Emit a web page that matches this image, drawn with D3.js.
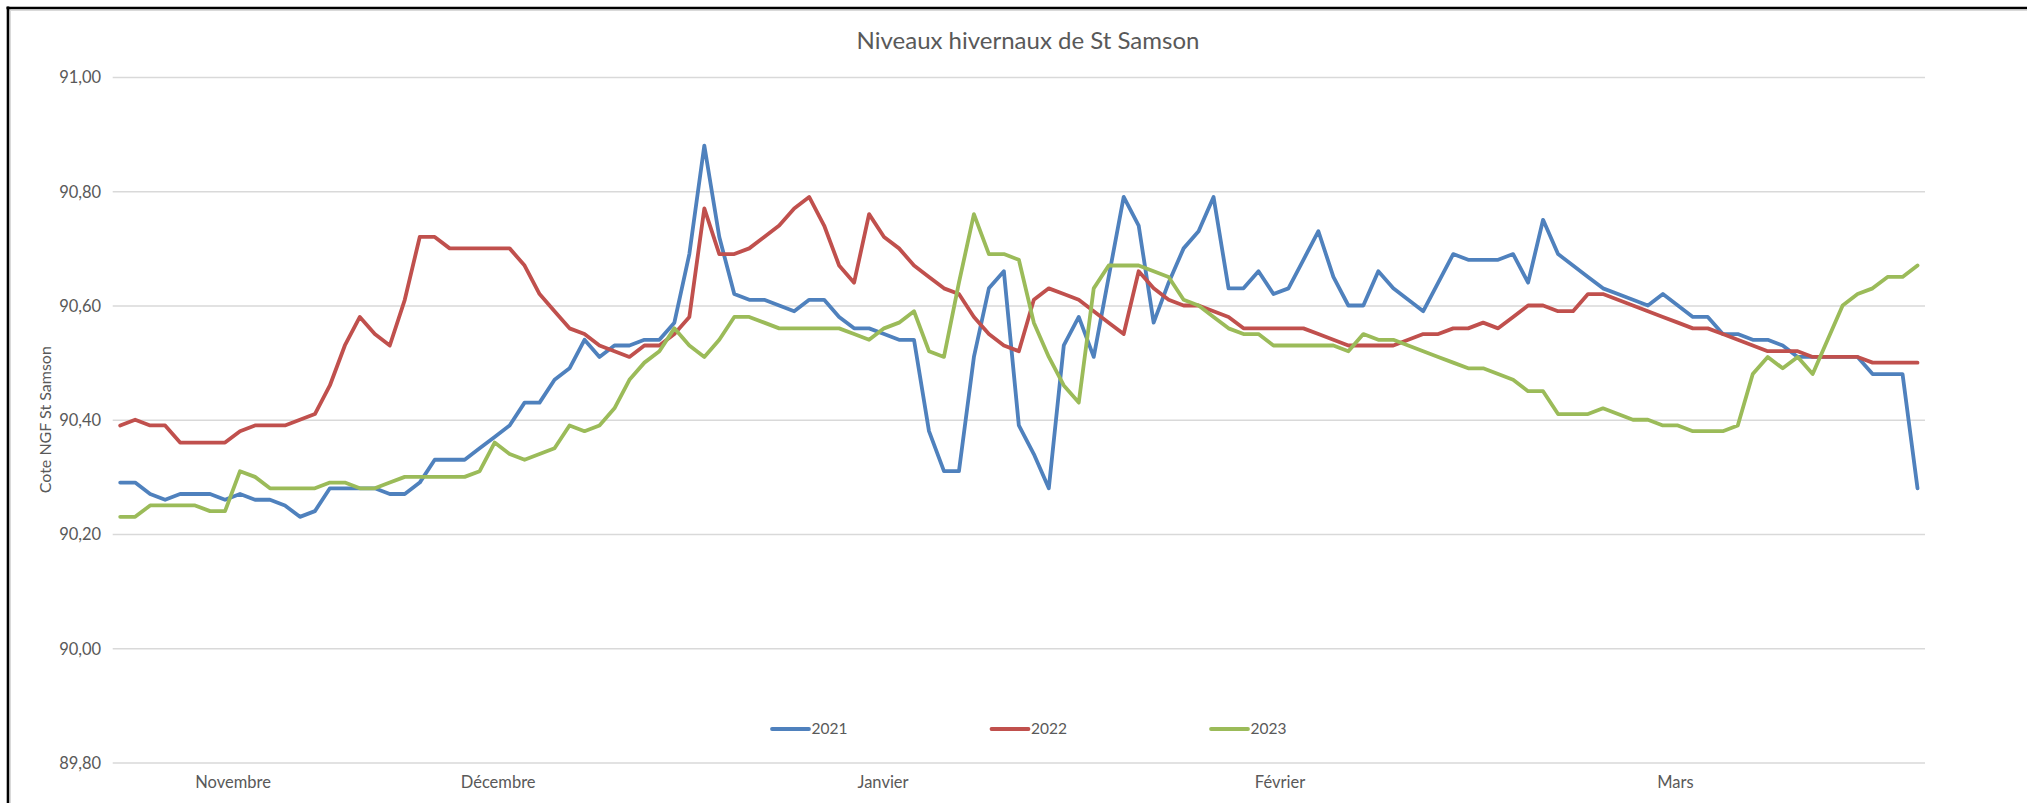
<!DOCTYPE html>
<html><head><meta charset="utf-8">
<script src="https://cdn.jsdelivr.net/npm/d3@7"></script>
<style>html,body{margin:0;padding:0;background:#fff;overflow:hidden}</style>
</head><body>
<svg id="chart" width="2027" height="803"></svg>
<script>
const chartTitle = "Niveaux hivernaux de St Samson";
const yAxisTitle = "Cote NGF St Samson";
const seriesNames = ["2021", "2022", "2023"];
const seriesColors = ["#4F81BD", "#C0504D", "#9BBB59"];

const values2021 = [
90.29,90.29,90.27,90.26,90.27,90.27,90.27,90.26,90.27,90.26,
90.26,90.25,90.23,90.24,90.28,90.28,90.28,90.28,90.27,90.27,
90.29,90.33,90.33,90.33,90.35,90.37,90.39,90.43,90.43,90.47,
90.49,90.54,90.51,90.53,90.53,90.54,90.54,90.57,90.69,90.88,
90.72,90.62,90.61,90.61,90.60,90.59,90.61,90.61,90.58,90.56,
90.56,90.55,90.54,90.54,90.38,90.31,90.31,90.51,90.63,90.66,
90.39,90.34,90.28,90.53,90.58,90.51,90.65,90.79,90.74,90.57,
90.64,90.70,90.73,90.79,90.63,90.63,90.66,90.62,90.63,90.68,
90.73,90.65,90.60,90.60,90.66,90.63,90.61,90.59,90.64,90.69,
90.68,90.68,90.68,90.69,90.64,90.75,90.69,90.67,90.65,90.63,
90.62,90.61,90.60,90.62,90.60,90.58,90.58,90.55,90.55,90.54,
90.54,90.53,90.51,90.51,90.51,90.51,90.51,90.48,90.48,90.48,
90.28];

const values2022 = [
90.39,90.40,90.39,90.39,90.36,90.36,90.36,90.36,90.38,90.39,
90.39,90.39,90.40,90.41,90.46,90.53,90.58,90.55,90.53,90.61,
90.72,90.72,90.70,90.70,90.70,90.70,90.70,90.67,90.62,90.59,
90.56,90.55,90.53,90.52,90.51,90.53,90.53,90.55,90.58,90.77,
90.69,90.69,90.70,90.72,90.74,90.77,90.79,90.74,90.67,90.64,
90.76,90.72,90.70,90.67,90.65,90.63,90.62,90.58,90.55,90.53,
90.52,90.61,90.63,90.62,90.61,90.59,90.57,90.55,90.66,90.63,
90.61,90.60,90.60,90.59,90.58,90.56,90.56,90.56,90.56,90.56,
90.55,90.54,90.53,90.53,90.53,90.53,90.54,90.55,90.55,90.56,
90.56,90.57,90.56,90.58,90.60,90.60,90.59,90.59,90.62,90.62,
90.61,90.60,90.59,90.58,90.57,90.56,90.56,90.55,90.54,90.53,
90.52,90.52,90.52,90.51,90.51,90.51,90.51,90.50,90.50,90.50,
90.50];

const values2023 = [
90.23,90.23,90.25,90.25,90.25,90.25,90.24,90.24,90.31,90.30,
90.28,90.28,90.28,90.28,90.29,90.29,90.28,90.28,90.29,90.30,
90.30,90.30,90.30,90.30,90.31,90.36,90.34,90.33,90.34,90.35,
90.39,90.38,90.39,90.42,90.47,90.50,90.52,90.56,90.53,90.51,
90.54,90.58,90.58,90.57,90.56,90.56,90.56,90.56,90.56,90.55,
90.54,90.56,90.57,90.59,90.52,90.51,90.64,90.76,90.69,90.69,
90.68,90.57,90.51,90.46,90.43,90.63,90.67,90.67,90.67,90.66,
90.65,90.61,90.60,90.58,90.56,90.55,90.55,90.53,90.53,90.53,
90.53,90.53,90.52,90.55,90.54,90.54,90.53,90.52,90.51,90.50,
90.49,90.49,90.48,90.47,90.45,90.45,90.41,90.41,90.41,90.42,
90.41,90.40,90.40,90.39,90.39,90.38,90.38,90.38,90.39,90.48,
90.51,90.49,90.51,90.48,90.54,90.60,90.62,90.63,90.65,90.65,
90.67];

const monthLabels = ["Novembre", "Décembre", "Janvier", "Février", "Mars"];
const monthIndex = [7.5, 25.2, 50.9, 77.4, 103.8];
const yTicks = [89.8, 90.0, 90.2, 90.4, 90.6, 90.8, 91.0];

const allSeries = [values2021, values2022, values2023];

const svg = d3.select("#chart");
const textColor = "#595959";
const font = "Lato, 'Open Sans', sans-serif";

// frame
svg.append("rect").attr("x", 0).attr("y", 0).attr("width", 2027).attr("height", 803).attr("fill", "#fff");
svg.append("line").attr("x1", 9.5).attr("x2", 2027).attr("y1", 10.5).attr("y2", 10.5).attr("stroke", "#d9d9d9").attr("stroke-width", 1);
svg.append("line").attr("x1", 10.5).attr("x2", 10.5).attr("y1", 9.5).attr("y2", 803).attr("stroke", "#d9d9d9").attr("stroke-width", 1);
svg.append("line").attr("x1", 6.5).attr("x2", 2027).attr("y1", 8).attr("y2", 8).attr("stroke", "#000").attr("stroke-width", 2.6);
svg.append("line").attr("x1", 8).attr("x2", 8).attr("y1", 6.5).attr("y2", 803).attr("stroke", "#000").attr("stroke-width", 2.6);

const plotLeft = 112.7, plotRight = 1925, plotTop = 77, plotBottom = 762.5;
const n = values2021.length;
const x = d3.scaleLinear().domain([-0.5, n - 0.5]).range([plotLeft, plotRight]);
const y = d3.scaleLinear().domain([89.8, 91.0]).range([plotBottom, plotTop]);

const fr = d3.formatLocale({decimal: ",", thousands: " ", grouping: [3], currency: ["", " €"]});
const fmt = fr.format(".2f");

// gridlines
const yAxis = d3.axisLeft(y).tickValues(yTicks).tickSize(-(plotRight - plotLeft)).tickPadding(11.5).tickFormat(fmt);
const gy = svg.append("g").attr("transform", `translate(${plotLeft},0)`).call(yAxis);
gy.select(".domain").remove();
gy.selectAll(".tick line").attr("stroke", "#d9d9d9").attr("stroke-width", 1.3);
gy.selectAll(".tick text").attr("fill", textColor).attr("font-family", font).attr("font-size", 16.5).attr("dy", "0.35em");

// month labels
const xAxis = d3.axisBottom(x).tickValues(monthIndex).tickSize(0).tickPadding(0).tickFormat((d, i) => monthLabels[i]);
const gx = svg.append("g").attr("transform", `translate(0,${plotBottom})`).call(xAxis);
gx.select(".domain").remove();
gx.selectAll(".tick text").attr("fill", textColor).attr("font-family", font).attr("font-size", 16.5).attr("y", 19.5).attr("dy", "0.35em");

// lines
const line = d3.line().x((d, i) => x(i)).y(d => y(d));
svg.append("g").selectAll("path").data(allSeries).join("path")
  .attr("d", line)
  .attr("fill", "none")
  .attr("stroke", (d, i) => seriesColors[i])
  .attr("stroke-width", 3.8)
  .attr("stroke-linejoin", "round")
  .attr("stroke-linecap", "round");

// title
const t = svg.append("text").attr("x", 1028).attr("y", 41).attr("text-anchor", "middle").attr("dy", "0.35em")
  .attr("fill", textColor).attr("font-family", font).attr("font-size", 22).text(chartTitle);
const tw = t.node().getComputedTextLength();
if (tw > 0) t.attr("font-size", 22 * 343 / tw);

// y-axis title
svg.append("text").attr("transform", `translate(45,${(plotTop + plotBottom) / 2}) rotate(-90)`)
  .attr("text-anchor", "middle").attr("dy", "0.35em")
  .attr("fill", textColor).attr("font-family", font).attr("font-size", 16).text(yAxisTitle);

// legend
const legendX = d3.scaleLinear().domain([0, 1]).range([772, 991.5]);
const lg = svg.append("g").selectAll("g").data(seriesNames).join("g")
  .attr("transform", (d, i) => `translate(${legendX(i)},729)`);
lg.append("line").attr("x1", 0).attr("x2", 37).attr("y1", 0).attr("y2", 0)
  .attr("stroke", (d, i) => seriesColors[i]).attr("stroke-width", 3.8).attr("stroke-linecap", "round");
lg.append("text").attr("x", 39.5).attr("y", 0).attr("dy", "0.35em")
  .attr("fill", textColor).attr("font-family", font).attr("font-size", 15.5).text(d => d);
</script>
</body></html>
